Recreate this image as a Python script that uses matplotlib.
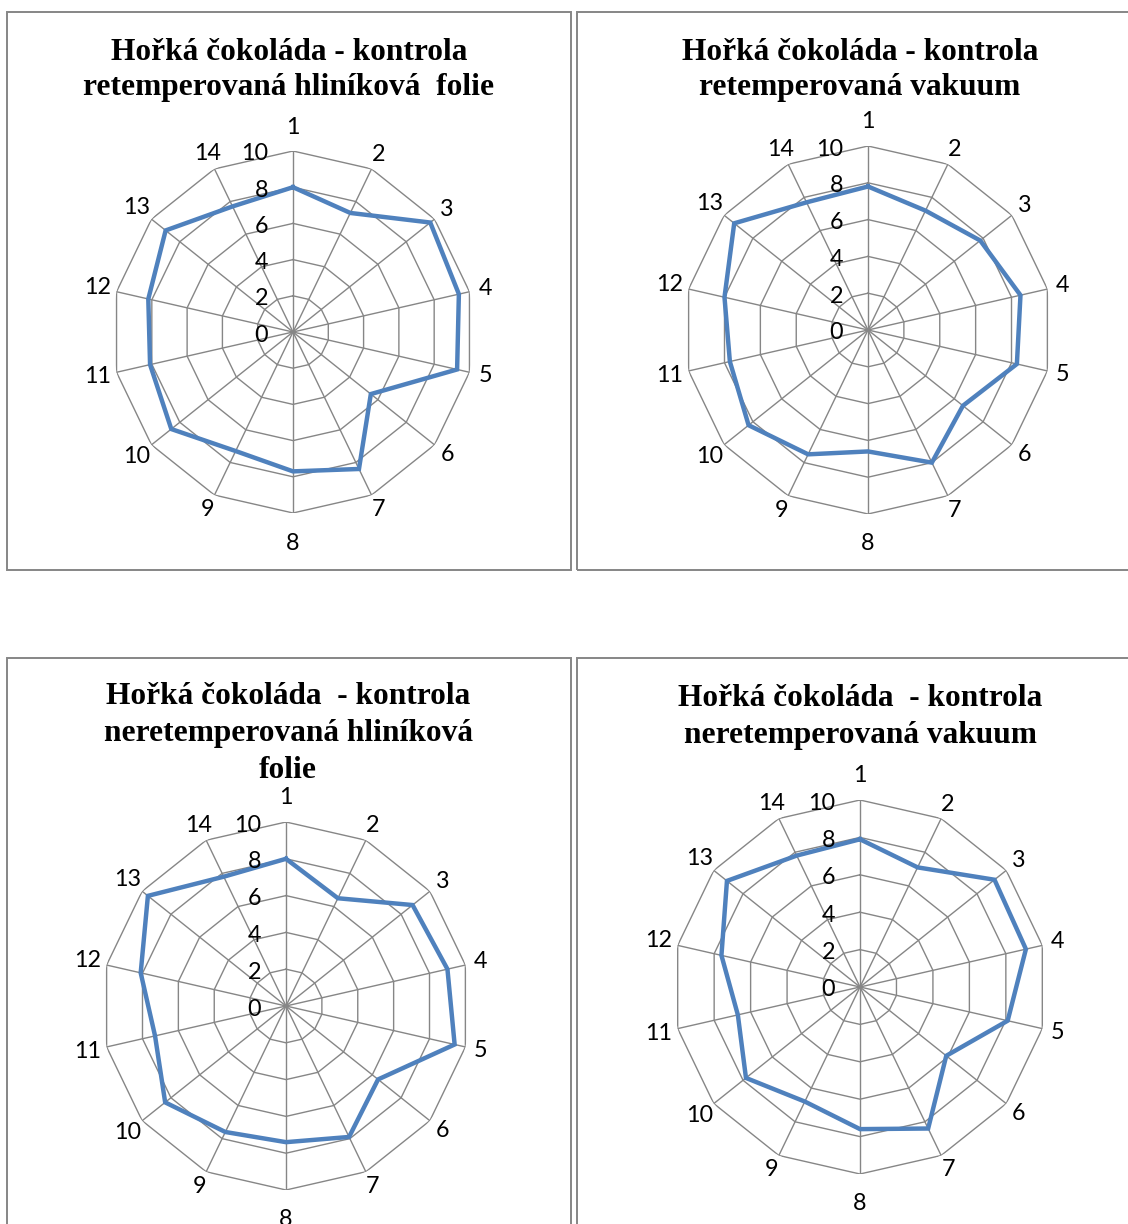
import numpy as np
import matplotlib
matplotlib.use("Agg")
import matplotlib.pyplot as plt
from matplotlib.patches import Rectangle

# Sensory scores for the 14 attributes, one list per sample
attributes = [str(i) for i in range(1, 15)]
retemp_foil = [8.0, 7.3, 9.7, 9.4, 9.3, 5.5, 8.4, 7.7, 7.3, 8.6, 8.1, 8.2, 9.0, 7.7]
retemp_vacuum = [7.8, 7.2, 7.8, 8.5, 8.3, 6.6, 8.0, 6.6, 7.5, 8.3, 7.7, 8.0, 9.3, 7.7]
noretemp_foil = [8.0, 6.5, 8.8, 9.0, 9.4, 6.4, 7.9, 7.4, 7.6, 8.4, 7.3, 8.1, 9.6, 7.8]
noretemp_vacuum = [7.9, 7.1, 9.2, 9.1, 8.1, 5.9, 8.4, 7.6, 6.8, 7.8, 6.7, 7.6, 9.1, 7.8]
radial_ticks = [0, 2, 4, 6, 8, 10]

titles = [
    ["Hořká čokoláda - kontrola", "retemperovaná hliníková  folie"],
    ["Hořká čokoláda - kontrola", "retemperovaná vakuum"],
    ["Hořká čokoláda  - kontrola", "neretemperovaná hliníková", "folie"],
    ["Hořká čokoláda  - kontrola", "neretemperovaná vakuum"],
]
series = [retemp_foil, retemp_vacuum, noretemp_foil, noretemp_vacuum]

W, H = 1128, 1224
DPI = 100
fig = plt.figure(figsize=(W / DPI, H / DPI), dpi=DPI)
fig.patch.set_facecolor("white")

GRID = "#868686"
LINE = "#4F81BD"
TICK_FONT = "Lato"
TITLE_FONT = "Liberation Serif"
TICK_SIZE = 16.8


def fx(x):
    return x / W


def fy(y):
    return 1 - y / H


# panel frames: (left, top, right, bottom) in pixels
frames = [(7, 12, 571, 570), (577, 12, 1141, 570),
          (7, 658, 571, 1240), (577, 658, 1141, 1240)]
# radar centre and outer radius in pixels
radars = [(293, 332, 181), (868, 330, 184), (286, 1006, 184), (860, 987, 187)]
# title line positions
title_pos = [(289, [53, 88]), (860, [53, 88]),
             (288, [697, 734, 770]), (860, [699, 736])]

for (l, t, r, b) in frames:
    fig.add_artist(Rectangle((fx(l), fy(b)), fx(r) - fx(l), fy(t) - fy(b),
                             transform=fig.transFigure, fill=False,
                             edgecolor=GRID, linewidth=1.4))

for (cx, ys), lines in zip(title_pos, titles):
    for y, txt in zip(ys, lines):
        fig.text(fx(cx), fy(y), txt, ha="center", va="center",
                 fontsize=22.6, fontweight="bold", family=TITLE_FONT,
                 color="black")

n = len(attributes)
theta = np.linspace(0, 2 * np.pi, n, endpoint=False)
theta_closed = np.append(theta, theta[0])

for (cx, cy, R), vals in zip(radars, series):
    ax = fig.add_axes([fx(cx - R), fy(cy + R), 2 * R / W, 2 * R / H],
                      projection="polar")
    ax.set_theta_zero_location("N")
    ax.set_theta_direction(-1)
    ax.set_ylim(0, 10)
    ax.grid(False)
    ax.spines["polar"].set_visible(False)
    ax.set_xticks([])
    ax.set_yticks([])
    ax.patch.set_alpha(0)

    # polygonal rings and spokes
    for v in radial_ticks[1:]:
        ax.plot(theta_closed, [v] * (n + 1), color=GRID, lw=1.0,
                solid_joinstyle="miter")
    for th in theta:
        ax.plot([th, th], [0, 10], color=GRID, lw=1.0)

    ax.plot(theta_closed, list(vals) + [vals[0]], color=LINE, lw=3.2,
            solid_joinstyle="miter", zorder=5)

    # radial value labels to the left of the first spoke
    for v in radial_ticks:
        fig.text(fx(cx - 25), fy(cy - v / 10 * R + 3), str(v),
                 ha="right", va="center", fontsize=TICK_SIZE,
                 family=TICK_FONT, color="black")

    # attribute labels around the outside
    for i, (th, lab) in enumerate(zip(theta, attributes)):
        c = np.cos(th)
        off = 16
        if i == 0:
            off = 24
        elif i == n // 2:
            off = 30
        off += 4 * (len(lab) - 1) * np.sin(th) ** 2
        rr = R + off
        x = cx + rr * np.sin(th)
        y = cy - rr * c
        fig.text(fx(x), fy(y), lab, ha="center", va="center",
                 fontsize=TICK_SIZE, family=TICK_FONT, color="black")

fig.savefig("out.png", dpi=DPI, facecolor="white")
